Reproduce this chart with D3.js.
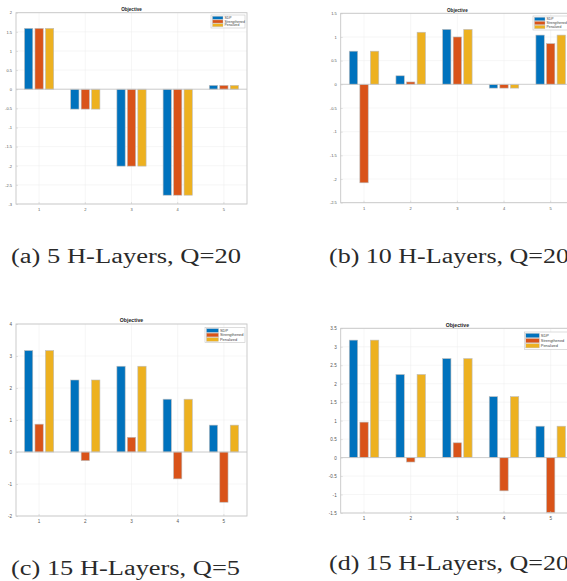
<!DOCTYPE html>
<html>
<head>
<meta charset="utf-8">
<script src="https://cdn.jsdelivr.net/npm/d3@7"></script>
<style>
  html, body { margin: 0; padding: 0; background: #fff; overflow: hidden; }
  svg { display: block; }
</style>
</head>
<body>
<svg id="fig" width="567" height="581"></svg>
<script>
// ---------- data ----------
const categories = [1, 2, 3, 4, 5];
const seriesNames = ["SDP", "Strengthened", "Penalized"];
const seriesColors = ["#0072BD", "#D95319", "#EDB120"];

// (a) 5 H-Layers, Q=20
const aSDP          = [1.59, -0.52, -2.01, -2.77, 0.10];
const aStrengthened = [1.59, -0.52, -2.01, -2.77, 0.10];
const aPenalized    = [1.59, -0.52, -2.01, -2.77, 0.10];
const aTicks = [-3, -2.5, -2, -1.5, -1, -0.5, 0, 0.5, 1, 1.5, 2];

// (b) 10 H-Layers, Q=20
const bSDP          = [0.70, 0.18, 1.16, -0.08, 1.04];
const bStrengthened = [-2.08, 0.05, 1.00, -0.08, 0.86];
const bPenalized    = [0.70, 1.10, 1.16, -0.08, 1.04];
const bTicks = [-2.5, -2, -1.5, -1, -0.5, 0, 0.5, 1, 1.5];

// (c) 15 H-Layers, Q=5
const cSDP          = [3.17, 2.25, 2.68, 1.65, 0.84];
const cStrengthened = [0.87, -0.27, 0.46, -0.84, -1.57];
const cPenalized    = [3.17, 2.25, 2.68, 1.65, 0.84];
const cTicks = [-2, -1, 0, 1, 2, 3, 4];

// (d) 15 H-Layers, Q=20
const dSDP          = [3.18, 2.25, 2.68, 1.65, 0.85];
const dStrengthened = [0.96, -0.12, 0.40, -0.90, -1.49];
const dPenalized    = [3.18, 2.25, 2.68, 1.65, 0.85];
const dTicks = [-1.5, -1, -0.5, 0, 0.5, 1, 1.5, 2, 2.5, 3, 3.5];

const captions = ["(a) 5 H-Layers, Q=20", "(b) 10 H-Layers, Q=20", "(c) 15 H-Layers, Q=5", "(d) 15 H-Layers, Q=20"];
const plotTitle = "Objective";

// ---------- layout ----------
const panels = [
  { series: [aSDP, aStrengthened, aPenalized], ticks: aTicks,
    box: {l: 16, r: 247, t: 12.7, b: 204}, fs: 4,
    leg: {x: 211, y: 15, w: 34, h: 13, sw: 10.5} },
  { series: [bSDP, bStrengthened, bPenalized], ticks: bTicks,
    box: {l: 340.7, r: 574, t: 13.3, b: 202.7}, fs: 4,
    leg: {x: 533, y: 16, w: 42, h: 14, sw: 10.5} },
  { series: [cSDP, cStrengthened, cPenalized], ticks: cTicks,
    box: {l: 16, r: 247, t: 324, b: 516}, fs: 4.6,
    leg: {x: 205, y: 327.3, w: 40, h: 15.4, sw: 12} },
  { series: [dSDP, dStrengthened, dPenalized], ticks: dTicks,
    box: {l: 340.7, r: 574, t: 328.3, b: 513}, fs: 4.6,
    leg: {x: 524.3, y: 332, w: 46, h: 17.3, sw: 13.5} }
];
const captionPos = [
  {x: 11, y: 263, w: 230},
  {x: 329, y: 263, w: 240},
  {x: 11, y: 575, w: 229},
  {x: 329, y: 570, w: 240}
];

const svg = d3.select("#fig");
const font = "'Liberation Sans', Arial, sans-serif";

panels.forEach(p => {
  const g = svg.append("g");
  const {l, r, t, b} = p.box;
  const x = d3.scaleBand().domain(categories).range([l, r]).paddingInner(0).paddingOuter(0);
  const y = d3.scaleLinear().domain([d3.min(p.ticks), d3.max(p.ticks)]).range([b, t]);
  const gw = x.bandwidth() * 0.68;
  const inner = d3.scaleBand().domain(seriesNames).range([-gw / 2, gw / 2]).paddingInner(0.21).paddingOuter(0.105);

  g.append("rect").attr("x", l).attr("y", t).attr("width", r - l).attr("height", b - t).attr("fill", "#fff");

  g.selectAll(".hg").data(p.ticks).join("line")
    .attr("x1", l).attr("x2", r).attr("y1", d => y(d)).attr("y2", d => y(d))
    .attr("stroke", "#ececec").attr("stroke-width", 0.5);
  g.selectAll(".vg").data(categories).join("line")
    .attr("y1", t).attr("y2", b).attr("x1", d => x(d) + x.bandwidth() / 2).attr("x2", d => x(d) + x.bandwidth() / 2)
    .attr("stroke", "#ececec").attr("stroke-width", 0.5);

  seriesNames.forEach((s, si) => {
    g.append("g").selectAll("rect").data(p.series[si]).join("rect")
      .attr("x", (d, i) => x(categories[i]) + x.bandwidth() / 2 + inner(s))
      .attr("width", inner.bandwidth())
      .attr("y", d => Math.min(y(d), y(0)))
      .attr("height", d => Math.abs(y(d) - y(0)))
      .attr("fill", seriesColors[si])
      .attr("stroke", "#bdbdbd").attr("stroke-width", 0.6);
  });

  g.append("line").attr("x1", l).attr("x2", r).attr("y1", y(0)).attr("y2", y(0))
    .attr("stroke", "#c4c4c4").attr("stroke-width", 0.8);

  g.append("rect").attr("x", l).attr("y", t).attr("width", r - l).attr("height", b - t)
    .attr("fill", "none").attr("stroke", "#c6c6c6").attr("stroke-width", 0.9);

  const yAxis = d3.axisLeft(y).tickValues(p.ticks).tickSize(-2).tickPadding(4).tickFormat(d => String(d));
  const ya = g.append("g").attr("transform", `translate(${l},0)`).call(yAxis);
  ya.select(".domain").remove();
  ya.selectAll("line").attr("stroke", "#c6c6c6").attr("stroke-width", 0.5);
  ya.selectAll("text").attr("font-family", font).attr("font-size", p.fs).attr("fill", "#555");

  const xAxis = d3.axisBottom(x).tickSize(-2).tickPadding(4).tickFormat(d => String(d));
  const xa = g.append("g").attr("transform", `translate(0,${b})`).call(xAxis);
  xa.select(".domain").remove();
  xa.selectAll("line").attr("stroke", "#c6c6c6").attr("stroke-width", 0.5);
  xa.selectAll("text").attr("font-family", font).attr("font-size", p.fs).attr("fill", "#555");

  g.append("text").attr("x", (l + r) / 2).attr("y", t - 1.6).attr("text-anchor", "middle")
    .attr("font-family", font).attr("font-weight", "bold").attr("font-size", p.fs + 0.6)
    .attr("fill", "#222").text(plotTitle);

  const L = p.leg;
  const lg = g.append("g");
  lg.append("rect").attr("x", L.x).attr("y", L.y).attr("width", L.w).attr("height", L.h)
    .attr("fill", "#fff").attr("stroke", "#c6c6c6").attr("stroke-width", 0.6);
  const rowH = (L.h - 2) / 3;
  seriesNames.forEach((s, si) => {
    const cy = L.y + 1 + rowH * (si + 0.5);
    lg.append("rect").attr("x", L.x + 1.5).attr("y", cy - rowH * 0.42).attr("width", L.sw).attr("height", rowH * 0.84)
      .attr("fill", seriesColors[si]).attr("stroke", "#bdbdbd").attr("stroke-width", 0.4);
    lg.append("text").attr("x", L.x + 1.5 + L.sw + 1.5).attr("y", cy).attr("dy", "0.35em")
      .attr("font-family", font).attr("font-size", p.fs * 0.85).attr("fill", "#444").text(s);
  });
});

captions.forEach((c, i) => {
  const cp = captionPos[i];
  svg.append("text").attr("x", cp.x).attr("y", cp.y)
    .attr("font-family", "'Liberation Serif', 'DejaVu Serif', serif").attr("font-size", 20.5)
    .attr("textLength", cp.w).attr("lengthAdjust", "spacingAndGlyphs")
    .attr("fill", "#2a2a2a").text(c);
});
</script>
</body>
</html>
